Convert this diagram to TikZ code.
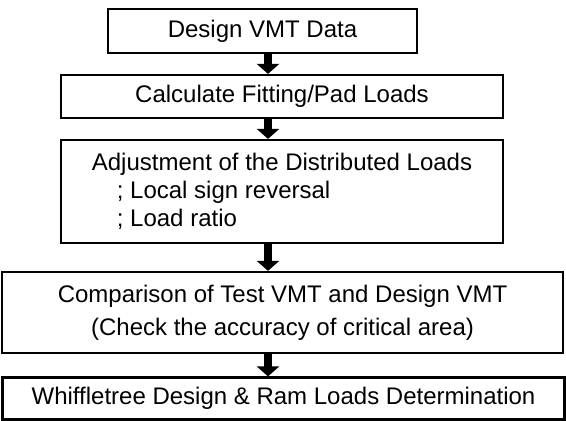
\documentclass[tikz,border=0pt]{standalone}
\usepackage{fontspec}
\setmainfont{Liberation Sans}
\usetikzlibrary{arrows.meta}
\begin{document}
\begin{tikzpicture}[x=1pt,y=-1pt,
  box/.style={draw=black, line width=2.2pt, rectangle, inner sep=0pt,
    font=\fontsize{24}{28}\selectfont},
  flowarrow/.style={line width=8.5pt, -{Triangle[width=22pt,length=10pt]}}]
\useasboundingbox (0,0) rectangle (566,421);
\node[box, minimum width=309pt, minimum height=44pt] (b1) at (262.5,31) {Design VMT Data};
\node[box, minimum width=442pt, minimum height=43pt] (b2) at (282,96.5) {Calculate Fitting/Pad Loads};
\node[box, minimum width=442pt, minimum height=103pt, align=left] (b3) at (282,191.5)
  {Adjustment of the Distributed Loads\\\hspace*{25pt}; Local sign reversal\\\hspace*{25pt}; Load ratio};
\node[box, minimum width=561pt, minimum height=81pt, align=center] (b4) at (282.5,312.5)
  {Comparison of Test VMT and Design VMT\\[5pt](Check the accuracy of critical area)};
\node[box, minimum width=562pt, minimum height=42pt] (b5) at (283.5,398.5) {Whiffletree Design \& Ram Loads Determination};
\coordinate (ax) at (268,0);
\draw[flowarrow] (b1.south -| ax) -- (b2.north -| ax);
\draw[flowarrow] (b2.south -| ax) -- (b3.north -| ax);
\draw[flowarrow] (b3.south -| ax) -- (b4.north -| ax);
\draw[flowarrow] (b4.south -| ax) -- (b5.north -| ax);
\end{tikzpicture}
\end{document}
